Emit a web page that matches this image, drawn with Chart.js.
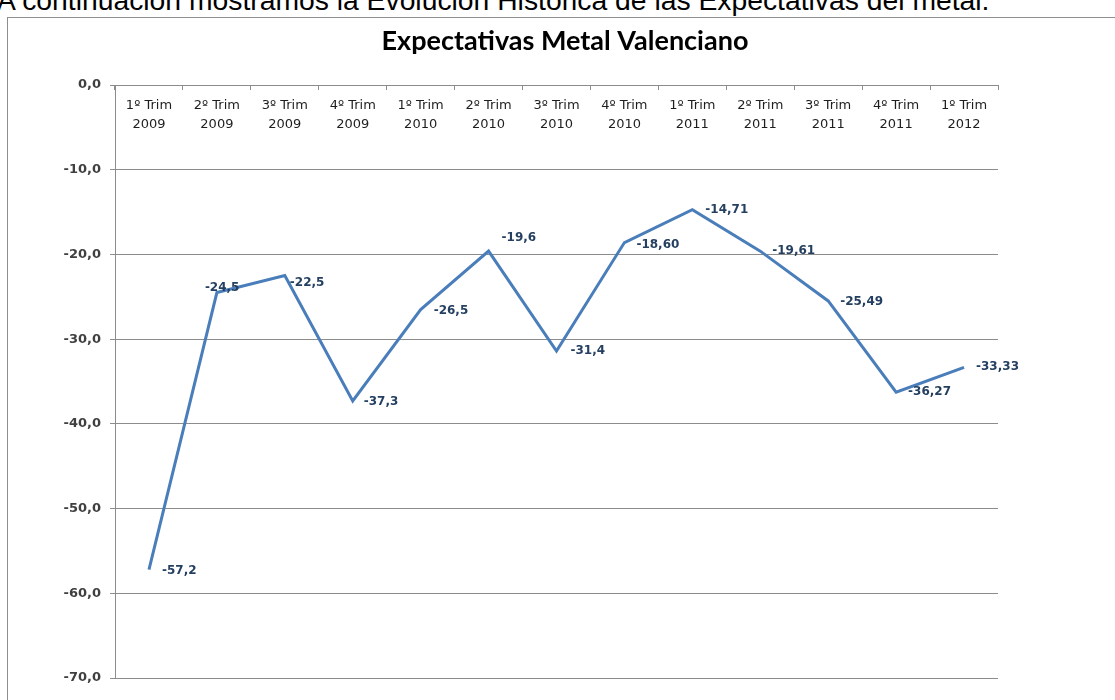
<!DOCTYPE html>
<html><head><meta charset="utf-8">
<script src="https://cdn.jsdelivr.net/npm/chart.js@4.4.0/dist/chart.umd.min.js"></script>
<style>
html,body{margin:0;padding:0;background:#fff;overflow:hidden;width:1115px;height:700px;position:relative;}
#caption{position:absolute;left:-3px;top:-14px;font-family:"Liberation Sans",Arial,sans-serif;font-size:28.3px;line-height:28px;white-space:nowrap;color:#000;}
#frame{position:absolute;left:7px;top:17px;width:1200px;height:800px;border:1px solid #8e8e8e;box-sizing:border-box;}
#wrap{position:absolute;left:0;top:0;width:1130px;height:700px;}
</style></head><body>
<div id="caption">A continuación mostramos la Evolución Histórica de las Expectativas del metal.</div>
<div id="frame"></div>
<div id="wrap"><canvas id="c"></canvas></div>
<script>
// ---- data ----
const categories = [
  ['1º Trim','2009'],['2º Trim','2009'],['3º Trim','2009'],['4º Trim','2009'],
  ['1º Trim','2010'],['2º Trim','2010'],['3º Trim','2010'],['4º Trim','2010'],
  ['1º Trim','2011'],['2º Trim','2011'],['3º Trim','2011'],['4º Trim','2011'],
  ['1º Trim','2012']
];
const values = [-57.2, -24.5, -22.5, -37.3, -26.5, -19.6, -31.4, -18.60, -14.71, -19.61, -25.49, -36.27, -33.33];
const decimals = [1, 1, 1, 1, 1, 1, 1, 2, 2, 2, 2, 2, 2];
const yTicks = [0, -10, -20, -30, -40, -50, -60, -70];
const chartTitle = 'Expectativas Metal Valenciano';

// ---- label placement (style) ----
const labelOffsets = [[13,1],[-12,-5],[5,7],[11,1],[13,1],[13,-13],[14,0],[12,2],[13,0],[12,0],[12,1],[12,0],[12,0]];

function fmt(v, d){ return v.toFixed(d).replace('.', ','); }

const valueLabels = {
  id: 'valueLabels',
  afterDatasetsDraw(chart){
    const ctx = chart.ctx;
    const meta = chart.getDatasetMeta(0);
    ctx.save();
    ctx.font = 'bold 12px "DejaVu Sans"';
    ctx.fillStyle = '#243f60';
    ctx.textAlign = 'left';
    ctx.textBaseline = 'middle';
    meta.data.forEach((pt, i) => {
      const o = labelOffsets[i];
      ctx.fillText(fmt(values[i], decimals[i]), pt.x + o[0], pt.y + o[1]);
    });
    ctx.restore();
  }
};

new Chart(document.getElementById('c'), {
  type: 'line',
  data: {
    labels: categories,
    datasets: [{
      data: values,
      borderColor: '#4a7ebb',
      borderWidth: 3,
      pointRadius: 0,
      tension: 0,
      fill: false
    }]
  },
  options: {
    responsive: true,
    maintainAspectRatio: false,
    animation: false,
    layout: { padding: { left: 0, right: 0, top: 0, bottom: 22 } },
    plugins: {
      legend: { display: false },
      tooltip: { enabled: false },
      title: {
        display: true,
        text: chartTitle,
        color: '#000',
        font: { family: 'Lato', size: 27, weight: 'bold', lineHeight: 1.2 },
        padding: { top: 24.8, bottom: 27.8 }
      }
    },
    scales: {
      x: {
        position: { y: 0 },
        offset: true,
        grid: { display: true, drawOnChartArea: false, drawTicks: true, tickLength: 4, color: '#8c8c8c', offset: true },
        border: { display: true, color: '#8c8c8c' },
        ticks: { font: { family: 'DejaVu Sans', size: 13, lineHeight: 1.45 }, color: '#1e1e1e', padding: 7, maxRotation: 0, minRotation: 0, autoSkip: false },
        afterFit(s){ s.height = 0; }
      },
      y: {
        position: 'left',
        min: -70, max: 0,
        afterBuildTicks(s){ s.ticks = yTicks.map(v => ({ value: v })); },
        ticks: { callback: v => fmt(v, 1), font: { family: 'DejaVu Sans', size: 13, weight: 'bold' }, color: '#404040', padding: 9 },
        grid: { color: '#8c8c8c', lineWidth: 1, tickLength: 5, drawTicks: true },
        border: { display: true, color: '#8c8c8c' },
        afterFit(s){ s.width = 115; }
      },
      yR: {
        position: 'right',
        display: true,
        min: -70, max: 0,
        grid: { display: false, drawTicks: false },
        ticks: { display: false },
        border: { display: false },
        afterFit(s){ s.width = 132; }
      }
    }
  },
  plugins: [valueLabels]
});
</script>
</body></html>
